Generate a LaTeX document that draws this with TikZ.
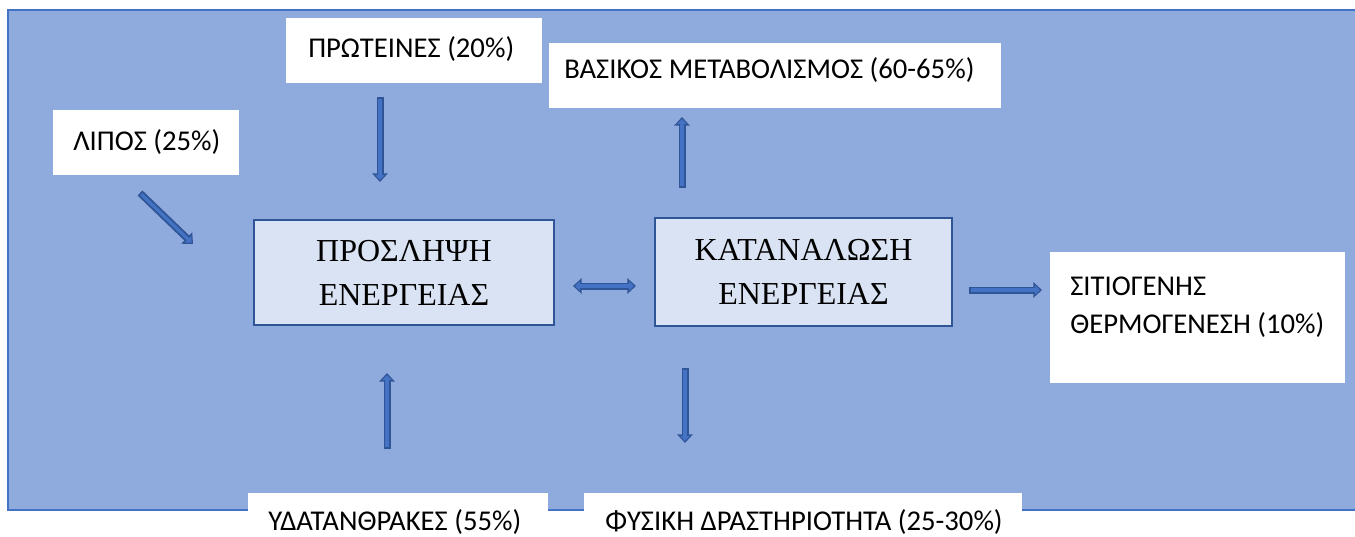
\documentclass[tikz,border=0pt]{standalone}
\usepackage{fontspec}
\setmainfont{Carlito}
\newfontfamily\serifgr{Liberation Serif}
\usetikzlibrary{arrows.meta}
\definecolor{bgblue}{HTML}{8FAADC}
\definecolor{bdblue}{HTML}{4472C4}
\definecolor{dkblue}{HTML}{2F5597}
\definecolor{lightbox}{HTML}{DAE3F3}
\tikzset{
  wbox/.style={fill=white, draw=none, inner sep=0pt},
  wtxt/.style={inner sep=0pt, font=\fontsize{21.5}{28.5}\selectfont, text=black},
  cbox/.style={fill=lightbox, draw=dkblue, line width=2pt, inner sep=0pt, align=center,
     font=\serifgr\fontsize{24}{33}\selectfont},
  arrout/.style={draw=dkblue, line width=5.25pt},
  arrin/.style={draw=bdblue, line width=2.4pt},
}
\begin{document}
\begin{tikzpicture}[x=0.75pt, y=-0.75pt]
\useasboundingbox (0,0) rectangle (1355,536);
% background
\path[fill=bgblue, draw=bdblue, line width=1.2pt] (8,10) rectangle (1362,510);

% white boxes
\node[wbox, minimum width=139.5pt, minimum height=48.75pt] (lipos) at (146,142.5) {};
\node[wtxt, anchor=base west] (liposT) at (73,150) {ΛΙΠΟΣ (25\%)};

\node[wbox, minimum width=192pt, minimum height=48.75pt] (prot) at (414,50.5) {};
\node[wtxt, anchor=base west] (protT) at (308,57) {ΠΡΩΤΕΙΝΕΣ (20\%)};

\node[wbox, minimum width=339pt, minimum height=48.75pt] (vas) at (775,75.5) {};
\node[wtxt, anchor=base west] (vasT) at (564,78) {ΒΑΣΙΚΟΣ ΜΕΤΑΒΟΛΙΣΜΟΣ (60-65\%)};

\node[wbox, minimum width=221.25pt, minimum height=98.25pt] (sit) at (1197.5,317.5) {};
\node[wtxt, anchor=base west, align=left] (sitT) at (1070,333) {ΣΙΤΙΟΓΕΝΗΣ\\ΘΕΡΜΟΓΕΝΕΣΗ (10\%)};

\node[wbox, minimum width=225pt, minimum height=45pt] (ydat) at (398,523) {};
\node[wtxt, anchor=base west] (ydatT) at (268,530) {ΥΔΑΤΑΝΘΡΑΚΕΣ (55\%)};

\node[wbox, minimum width=328.5pt, minimum height=45pt] (fys) at (803,523) {};
\node[wtxt, anchor=base west] (fysT) at (605,530) {ΦΥΣΙΚΗ ΔΡΑΣΤΗΡΙΟΤΗΤΑ (25-30\%)};

% central boxes
\node[cbox, minimum width=225pt, minimum height=78.75pt] (pros) at (404,272.5) {ΠΡΟΣΛΗΨΗ\\ΕΝΕΡΓΕΙΑΣ};
\node[cbox, minimum width=222.75pt, minimum height=81pt] (kat) at (803.5,272) {ΚΑΤΑΝΑΛΩΣΗ\\ΕΝΕΡΓΕΙΑΣ};

% arrow end coordinates
\coordinate (a1s) at (140,193);   \coordinate (a1e) at (193,244);
\coordinate (a2s) at (380,97);    \coordinate (a2e) at (380,182);
\coordinate (a3s) at (387,449);   \coordinate (a3e) at (387,373);
\coordinate (a4s) at (682,188);   \coordinate (a4e) at (682,117);
\coordinate (a5s) at (685,368);   \coordinate (a5e) at (685,443);
\coordinate (a6s) at (969,290);   \coordinate (a6e) at (1042,290);
\coordinate (a7s) at (573,286);   \coordinate (a7e) at (636,286);

\foreach \a in {a1,a2,a3,a4,a5,a6}{
  \draw[arrout, -{Triangle[length=6.5pt, width=11.5pt]}] (\a s) -- (\a e);
  \draw[arrin, shorten <=1.4pt, shorten >=1.5pt, -{Triangle[length=3.6pt, width=6.8pt]}] (\a s) -- (\a e);
}
\draw[arrout, {Triangle[length=6.5pt, width=11.5pt]}-{Triangle[length=6.5pt, width=11.5pt]}] (a7s) -- (a7e);
\draw[arrin, shorten <=1.5pt, shorten >=1.5pt, {Triangle[length=3.6pt, width=6.8pt]}-{Triangle[length=3.6pt, width=6.8pt]}] (a7s) -- (a7e);
\end{tikzpicture}
\end{document}
